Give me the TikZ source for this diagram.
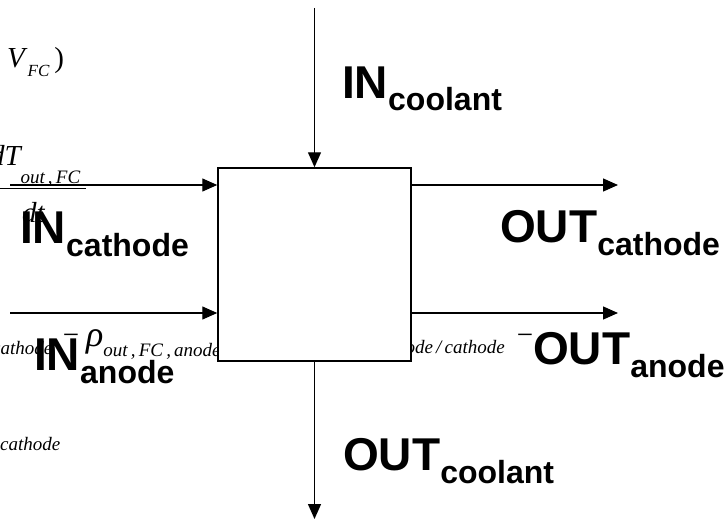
\documentclass[tikz,border=0pt]{standalone}
\usepackage{fontspec}
\setmainfont{Liberation Serif}
\setsansfont{Liberation Sans}
\usetikzlibrary{arrows.meta}
\newcommand\lsub[1]{\raisebox{-13pt}{\fontsize{32}{36}\selectfont #1}}
\begin{document}
\begin{tikzpicture}[x=1pt,y=-1pt,
  lbl/.style={anchor=base west, inner sep=0pt, font=\sffamily\bfseries\fontsize{46}{50}\selectfont},
  fragsm/.style={anchor=base west, inner sep=0pt, font=\fontsize{19}{22}\selectfont\itshape},
  fragbig/.style={anchor=base west, inner sep=0pt, font=\fontsize{29}{32}\selectfont},
  arr/.style={line width=1.3pt, -{Triangle[length=15pt,width=13pt]}},
  fcbox/.style={draw, line width=1.5pt, fill=white, minimum width=193pt, minimum height=193pt, inner sep=0pt}]
\useasboundingbox (0,0) rectangle (725,519);
% background equation fragments
\node[fragbig] (vfc) at (7,67) {\textit{V}\raisebox{-9pt}{\fontsize{17}{18}\selectfont\textit{FC}}\,)};
\node[fragbig] (dT) at (-10,165) {\textit{dT}\kern-2pt\raisebox{-18pt}{\fontsize{19}{20}\selectfont\textit{out\,,\,FC}}};
\coordinate (barl) at (0,188);
\coordinate (barr) at (86,188);
\draw[line width=1pt] (barl) -- (barr);
\node[fragbig] (dt) at (22,222) {\textit{dt}};
\node[fragsm] (cat1) at (-8,354) {cathode};
\node[fragbig, anchor=base] (min1) at (71,344) {−};
\node[fragbig] (rho) at (86,346) {{\fontsize{36}{38}\selectfont\itshape ρ}\raisebox{-10pt}{\fontsize{19}{20}\selectfont\itshape out\,,\,FC\,,\,anode}};
\node[fragsm, anchor=base east] (ac) at (505,353) {anode\,/\,cathode};
\node[fragbig, anchor=base] (min2) at (525,344) {−};
\node[fragsm] (cat2) at (0,450) {cathode};
% connectors
\node[fcbox] (fc) at (314.5,264.5) {};
\coordinate (topin) at (314.5,8);
\coordinate (botout) at (314.5,519);
\coordinate (cin) at (10,185);
\coordinate (ain) at (10,313);
\coordinate (cout) at (618,185);
\coordinate (aout) at (618,313);
\draw[arr] (topin) -- (fc.north);
\draw[arr] (fc.south) -- (botout);
\draw[arr] (cin) -- (cin -| fc.west);
\draw[arr] (ain) -- (ain -| fc.west);
\draw[arr] (cout -| fc.east) -- (cout);
\draw[arr] (aout -| fc.east) -- (aout);
% labels
\node[lbl] (incool) at (342,98) {IN\lsub{coolant}};
\node[lbl] (incath) at (20,243) {IN\lsub{cathode}};
\node[lbl] (outcath) at (500,242) {OUT\lsub{cathode}};
\node[lbl] (inan) at (34,370) {IN\lsub{anode}};
\node[lbl] (outan) at (533,364) {OUT\lsub{anode}};
\node[lbl] (outcool) at (343,470) {OUT\lsub{coolant}};
\end{tikzpicture}
\end{document}
